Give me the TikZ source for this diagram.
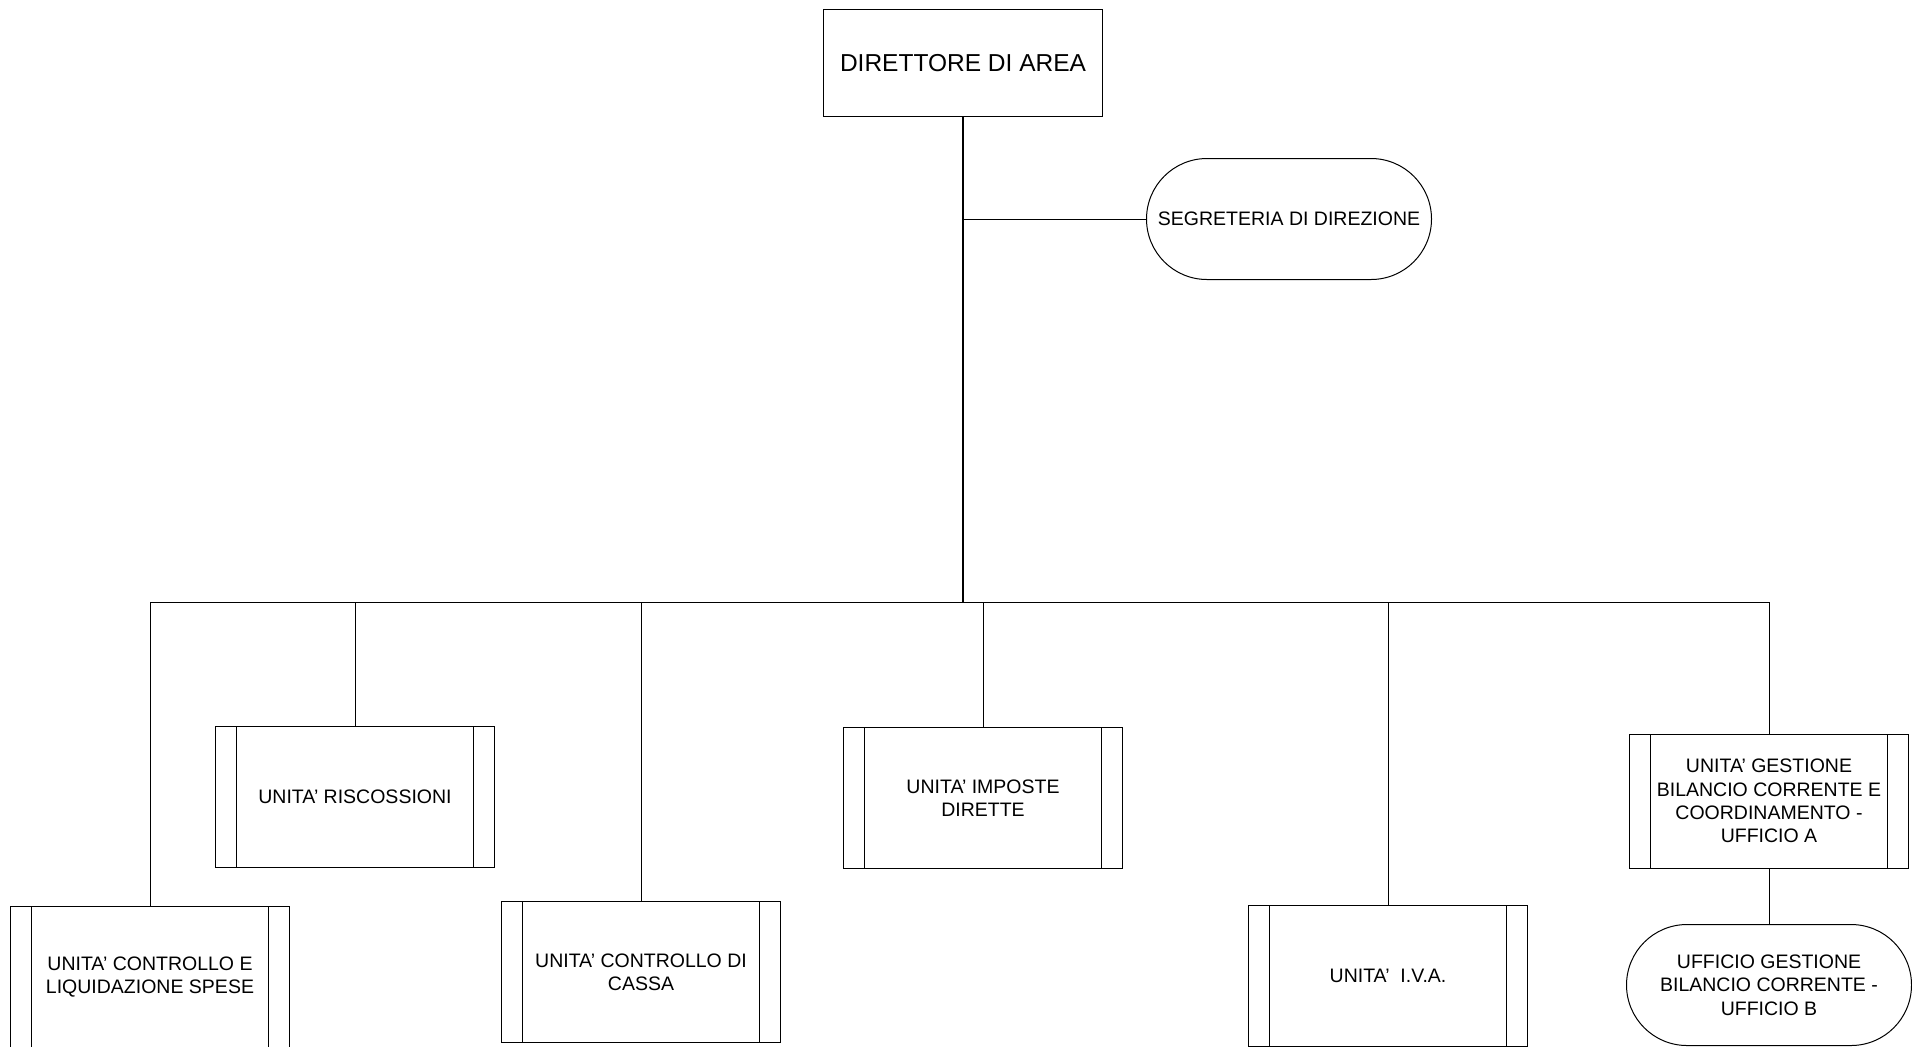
\documentclass[tikz,border=0pt]{standalone}
\usepackage{fontspec}
\setmainfont{Liberation Sans}
\usepackage{tikz}
\usetikzlibrary{shapes.misc}

\begin{document}
\begin{tikzpicture}[
    x=0.5pt, y=-0.5pt,
    line width=0.5pt,
    every node/.style={font=\fontsize{9.75}{11.7}\selectfont, align=center, inner sep=2pt},
    unita/.style={draw, rectangle, minimum width=139.5pt, minimum height=70.5pt,
        path picture={
            \draw ([xshift=10.5pt]path picture bounding box.north west) -- ([xshift=10.5pt]path picture bounding box.south west);
            \draw ([xshift=-10.5pt]path picture bounding box.north east) -- ([xshift=-10.5pt]path picture bounding box.south east);
        }},
    ufficio/.style={draw, rounded rectangle, rounded rectangle arc length=180,
        minimum width=146.5pt, minimum height=60.5pt}
]
\useasboundingbox (0,0) rectangle (1912,1046);

% Direttore e segreteria
\node[draw, minimum width=139.5pt, minimum height=53.5pt, font=\fontsize{12.25}{15}\selectfont] (dir) at (963,63) {DIRETTORE DI AREA};
\node[ufficio] (segr) at (1289,219) {SEGRETERIA DI DIREZIONE};

% Unita
\node[unita] (liq) at (150,977) {UNITA’ CONTROLLO E\\LIQUIDAZIONE SPESE};
\node[unita] (risc) at (355,797) {UNITA’ RISCOSSIONI};
\node[unita] (cassa) at (641,972) {UNITA’ CONTROLLO DI\\CASSA};
\node[unita] (imp) at (983,798) {UNITA’ IMPOSTE\\DIRETTE};
\node[unita] (iva) at (1388,976) {UNITA’\ \ I.V.A.};
\node[unita, minimum height=67pt] (ua) at (1769,801) {UNITA’ GESTIONE\\BILANCIO CORRENTE E\\COORDINAMENTO -\\UFFICIO A};
\node[ufficio] (ub) at (1769,985) {UFFICIO GESTIONE\\BILANCIO CORRENTE -\\UFFICIO B};

% Collegamenti
\coordinate (bus) at (963,602);
\draw[line width=1pt] (dir.south) -- (bus);
\draw (segr.west) -- (segr.west -| dir.south);
\foreach \u in {liq,risc,cassa,imp,iva,ua}
    \draw (bus) -| (\u.north);
\draw (ua.south) -- (ub.north);
\end{tikzpicture}
\end{document}
